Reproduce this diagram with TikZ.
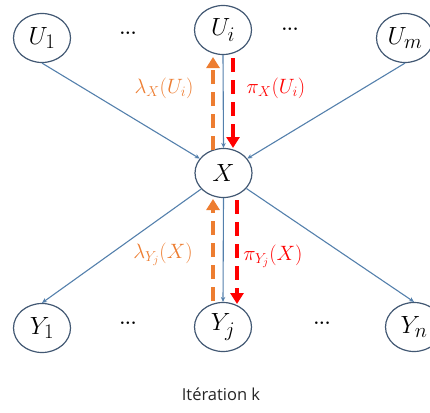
\documentclass[tikz,border=0pt]{standalone}
\usepackage{fontspec}
\newfontfamily\labfont{Open Sans}
\usetikzlibrary{shapes.geometric,arrows.meta}
\definecolor{nodeborder}{RGB}{66,88,115}
\definecolor{linkblue}{RGB}{84,128,172}
\definecolor{lamorange}{RGB}{237,125,49}
\definecolor{pired}{RGB}{255,0,0}
\tikzset{
  var/.style={ellipse,draw=nodeborder,line width=1.2pt,minimum width=57pt,minimum height=49pt,inner sep=0pt,font=\fontsize{30}{32}\selectfont},
  link/.style={draw=linkblue,line width=1.1pt,-{Stealth[length=5pt,width=4.5pt]}},
  lam/.style={draw=lamorange,line width=4pt,dash pattern=on 14pt off 8pt,-{Triangle[length=11pt,width=13pt]}},
  pim/.style={draw=pired,line width=4pt,dash pattern=on 14pt off 8pt,-{Triangle[length=11pt,width=13pt]}},
  dots/.style={font=\fontsize{18}{20}\selectfont\bfseries},
  msg/.style={font=\fontsize{21}{24}\selectfont}
}
\begin{document}
\begin{tikzpicture}[x=1pt,y=-1pt]
\useasboundingbox (0,0) rectangle (430,412);
\node[var] (U1) at (42,38) {$U_1$};
\node[var] (Ui) at (223,30) {$U_i$};
\node[var] (Um) at (405,38) {$U_m$};
\node[var] (X) at (223.5,173) {$X$};
\node[var] (Y1) at (42,328) {$Y_1$};
\node[var] (Yj) at (223,327) {$Y_j$};
\node[var] (Yn) at (414,327) {$Y_n$};
\node[dots] (d1) at (128,33) {...};
\node[dots] (d2) at (290,29) {...};
\node[dots] (d3) at (128,323) {...};
\node[dots] (d4) at (322,323) {...};
\node[font=\labfont\fontsize{16.5}{18}\selectfont,text=black!85] (title) at (221,394) {Itération k};
% structure links
\draw[link] (U1.south) -- (X);
\draw[link] (Um.south) -- (X);
\draw[link] (Ui.south) -- (X.north);
\draw[link] (X) -- (Y1.north);
\draw[link] (X.south) -- (Yj.north);
\draw[link] (X) -- (Yn.north);
% messages
\coordinate (lu0) at (213,150);
\coordinate (lu1) at (213,57);
\coordinate (pu0) at (233,58);
\coordinate (pu1) at (233,148);
\coordinate (ll0) at (213,301);
\coordinate (ll1) at (213,199);
\coordinate (pl0) at (237,200);
\coordinate (pl1) at (237,304);
\draw[lam] (lu0) -- (lu1);
\draw[pim] (pu0) -- (pu1);
\draw[lam] (ll0) -- (ll1);
\draw[pim] (pl0) -- (pl1);
\node[msg,text=lamorange] (lx) at (164,88) {$\lambda_X(U_i)$};
\node[msg,text=pired] (px) at (276,88) {$\pi_X(U_i)$};
\node[msg,text=lamorange] (ly) at (163,254) {$\lambda_{Y_j}(X)$};
\node[msg,text=pired] (py) at (273,256) {$\pi_{Y_j}(X)$};
\end{tikzpicture}
\end{document}
